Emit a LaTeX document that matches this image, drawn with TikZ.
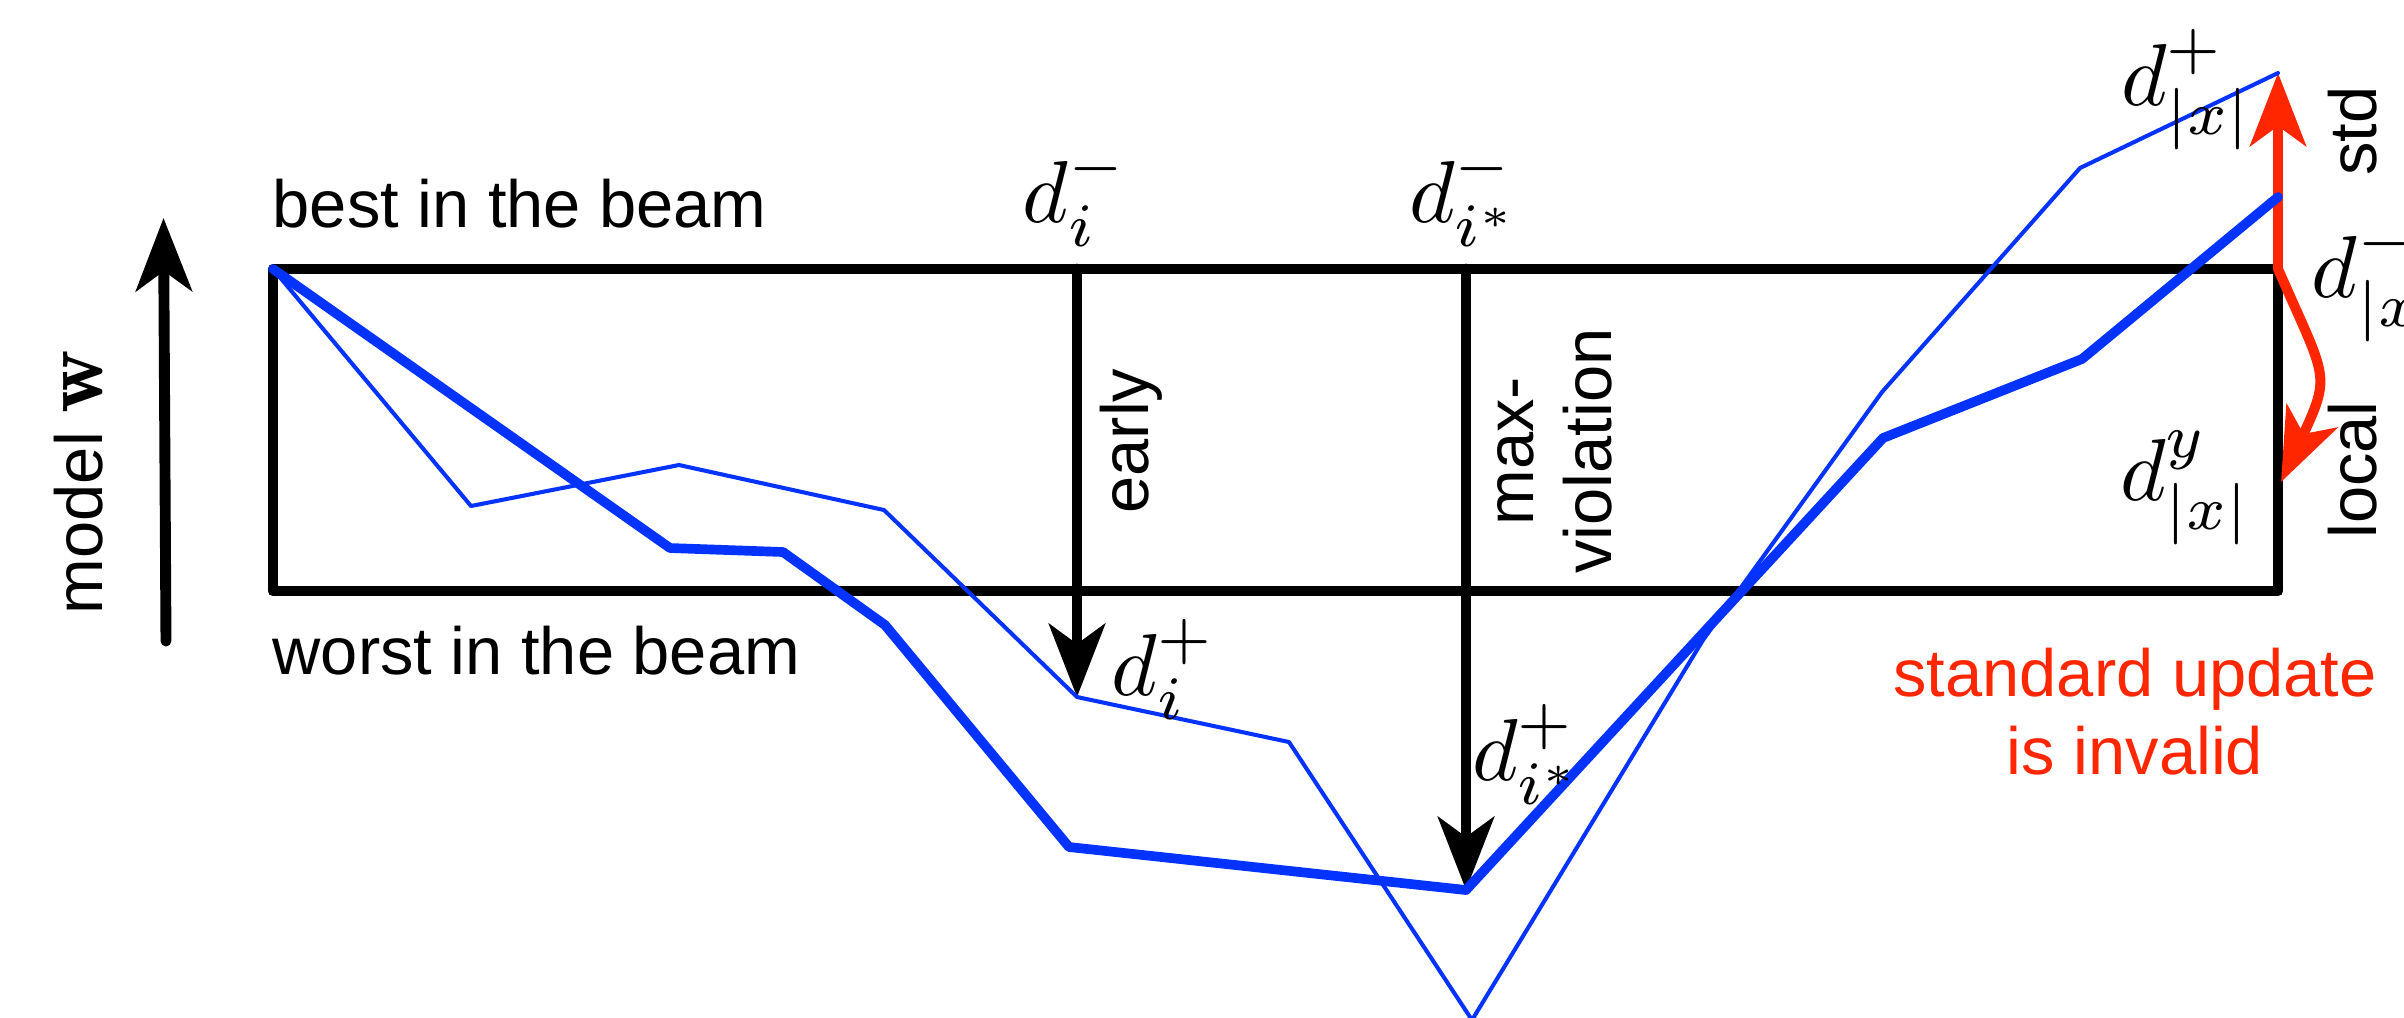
\documentclass[tikz,border=0pt]{standalone}
\usepackage{fontspec}
\setsansfont{Liberation Sans}
\usepackage{graphicx}
\usepackage{tikz}
\usetikzlibrary{arrows.meta,positioning}
\definecolor{PathBlue}{HTML}{0433FF}
\definecolor{UpdateRed}{HTML}{FF2600}
\newcommand{\Deriv}[2]{\scalebox{2.5}{$d_{#1}^{#2}$}}
\tikzstyle{BeamBox} =[draw,line width=3.1pt,line join=round]
\tikzstyle{ThinPath} =[draw=PathBlue,line width=1.15pt,line cap=round,line join=round]
\tikzstyle{ThickPath} =[draw=PathBlue,line width=2.75pt,line cap=round,line join=round]
\tikzstyle{UpdateArrow} =[draw,line width=3.1pt,line cap=round,-{Stealth[length=0.73cm,width=0.56cm,inset=0.2cm]}]
\tikzstyle{RedArrow} =[UpdateArrow,draw=UpdateRed,line width=2.85pt]
\tikzstyle{TextLabel} =[inner sep=0pt,font=\sffamily\fontsize{19}{22}\selectfont]
\tikzstyle{SideLabel} =[TextLabel,rotate=90,anchor=base]
\tikzstyle{MathLabel} =[inner sep=0pt,anchor=base,font=\normalsize]
\begin{document}
\begin{tikzpicture}[x=0.01cm,y=-0.01cm]
\useasboundingbox (0,0) rectangle (2404,1017);
\clip (0,0) rectangle (2404,1017);
\coordinate (Best-left) at (273,269);
\coordinate (Best-right) at (2278,269);
\coordinate (Worst-right) at (2278,591);
\coordinate (Early-top) at (1077,269);
\coordinate (Max-top) at (1466,269);
\coordinate (Early-hit) at (1077,697);
\coordinate (Max-hit) at (1466,890);
\coordinate (Std-hit) at (2278,73);
\coordinate (Local-hit) at (2281,482);
\coordinate (Model-low) at (166,641);
\coordinate (Model-high) at (163.5,218);
\draw[BeamBox] (Best-left) rectangle (Worst-right);
\draw[UpdateArrow] (Early-top) -- (Early-hit);
\draw[UpdateArrow] (Max-top) -- (Max-hit);
\draw[UpdateArrow] (Model-low) -- (Model-high);
\draw[RedArrow] (Best-right) -- (Std-hit);
\draw[RedArrow] (Best-right) .. controls (2326,379) and (2332,373) .. (Local-hit);
\draw[ThinPath] (Best-left) -- (471,506) -- (679,465) -- (884,510) -- (Early-hit) -- (1289,742) -- (1472,1020) -- (1703,640) -- (1882,392) -- (2080,168) -- (Std-hit);
\draw[ThickPath] (Best-left) -- (670,548) -- (783,552) -- (885,625) -- (1069,847) -- (Max-hit) -- (1883,438) -- (2082,359) -- (2278,197);
\node[TextLabel,anchor=base west] (Best-label) at (272,227) {best in the beam};
\node[TextLabel,anchor=base west] (Worst-label) at (272,674) {worst in the beam};
\node[SideLabel] (Model-label) at (102,482) {model~{\normalsize\scalebox{2.5}{$\mathbf{w}$}}};
\node[SideLabel] (Early-label) at (1148,441) {early};
\node[SideLabel,align=center] (Max-label) at (1611,451) {max-\\violation};
\node[SideLabel] (Std-label) at (2376,131) {std};
\node[SideLabel] (Local-label) at (2376,470) {local};
\node[TextLabel,align=center,text=UpdateRed,anchor=base] (Invalid-label) at (2135,774) {standard update\\is invalid};
\node[MathLabel] (Early-minus) at (1075,222) {\Deriv{i}{-}};
\node[MathLabel] (Max-minus) at (1465,222) {\Deriv{i^*}{-}};
\node[MathLabel] (Early-plus) at (1164,695) {\Deriv{i}{+}};
\node[MathLabel] (Max-plus) at (1528,780) {\Deriv{i^*}{+}};
\node[MathLabel] (Std-plus) at (2187,105) {\Deriv{|x|}{+}};
\node[MathLabel,anchor=base west] (Std-minus) at (2311,297) {\Deriv{|x|}{-}};
\node[MathLabel] (Local-y) at (2186,500) {\Deriv{|x|}{y}};
\end{tikzpicture}
\end{document}
